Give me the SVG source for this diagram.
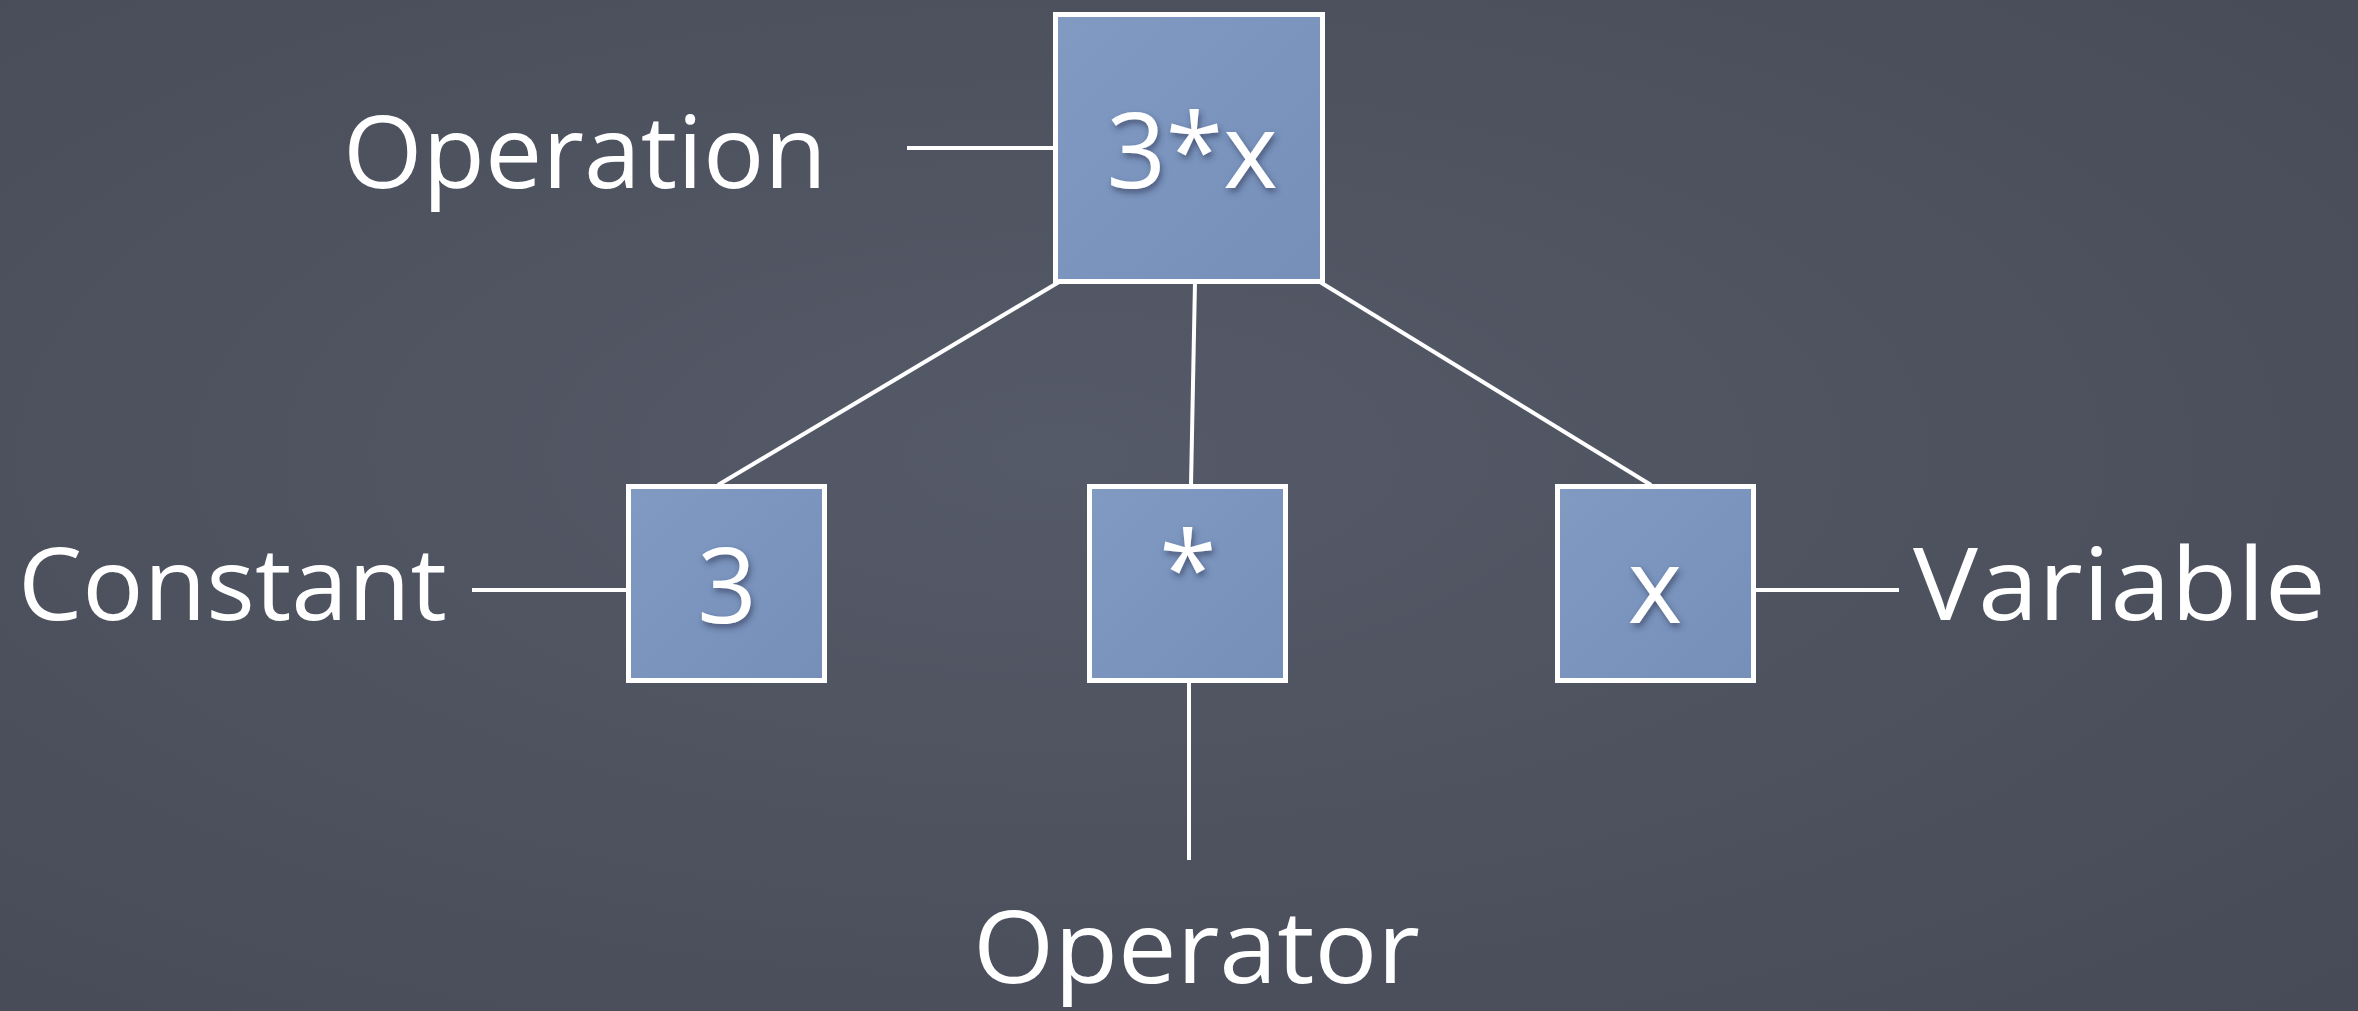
<svg xmlns="http://www.w3.org/2000/svg" width="2358" height="1011" viewBox="0 0 2358 1011">
  <style>
    .box { fill: #7b94bd; stroke: #ffffff; stroke-width: 5; }
    .link { stroke: #ffffff; stroke-width: 4; fill: none; stroke-linecap: butt; }
    .label { font-family: "Open Sans", "Noto Sans", sans-serif; fill: #ffffff; font-size: 100px; }
    .inbox { font-family: "Open Sans", "Noto Sans", sans-serif; fill: #ffffff; font-size: 104px; text-anchor: middle; filter: url(#shadow); }
  </style>
  <defs>
    <radialGradient id="slate" cx="0.45" cy="0.45" r="0.75">
      <stop offset="0" stop-color="#555a68"/>
      <stop offset="1" stop-color="#474b57"/>
    </radialGradient>
    <linearGradient id="boxShade" x1="0" y1="0" x2="1" y2="1">
      <stop offset="0" stop-color="#809ac2"/>
      <stop offset="1" stop-color="#758fb9"/>
    </linearGradient>
    <filter id="shadow" x="-30%" y="-30%" width="160%" height="160%">
      <feDropShadow dx="2" dy="4" stdDeviation="3" flood-color="#2a3550" flood-opacity="0.6"/>
    </filter>
  </defs>

  <!-- chalkboard background -->
  <rect x="0" y="0" width="2358" height="1011" fill="url(#slate)"/>

  <!-- connectors -->
  <g id="connectors">
    <line class="link" x1="907" y1="148" x2="1053" y2="148"/>
    <line class="link" x1="1059" y1="282" x2="718" y2="485"/>
    <line class="link" x1="1195" y1="282" x2="1191" y2="485"/>
    <line class="link" x1="1320" y1="282" x2="1651" y2="485"/>
    <line class="link" x1="472" y1="590" x2="627" y2="590"/>
    <line class="link" x1="1754" y1="590" x2="1899" y2="590"/>
    <line class="link" x1="1189" y1="682" x2="1189" y2="860"/>
  </g>

  <!-- expression nodes -->
  <g id="node-operation">
    <rect class="box" x="1055.5" y="14.5" width="267" height="267" style="fill:url(#boxShade)"/>
    <text class="inbox" x="1192" y="188">3*x</text>
  </g>
  <g id="node-constant">
    <rect class="box" x="628.5" y="486.5" width="196" height="194" style="fill:url(#boxShade)"/>
    <text class="inbox" x="727" y="623">3</text>
  </g>
  <g id="node-operator">
    <rect class="box" x="1089.5" y="486.5" width="196" height="194" style="fill:url(#boxShade)"/>
    <text class="inbox" x="1188" y="606">*</text>
  </g>
  <g id="node-variable">
    <rect class="box" x="1557.5" y="486.5" width="196" height="194" style="fill:url(#boxShade)"/>
    <text class="inbox" x="1655" y="623">x</text>
  </g>

  <!-- category labels -->
  <g id="labels">
    <text class="label" x="343" y="188" textLength="484" lengthAdjust="spacingAndGlyphs">Operation</text>
    <text class="label" x="18" y="620" textLength="429" lengthAdjust="spacingAndGlyphs">Constant</text>
    <text class="label" x="1913" y="620" textLength="413" lengthAdjust="spacingAndGlyphs">Variable</text>
    <text class="label" x="973" y="983" textLength="447" lengthAdjust="spacingAndGlyphs">Operator</text>
  </g>
</svg>
